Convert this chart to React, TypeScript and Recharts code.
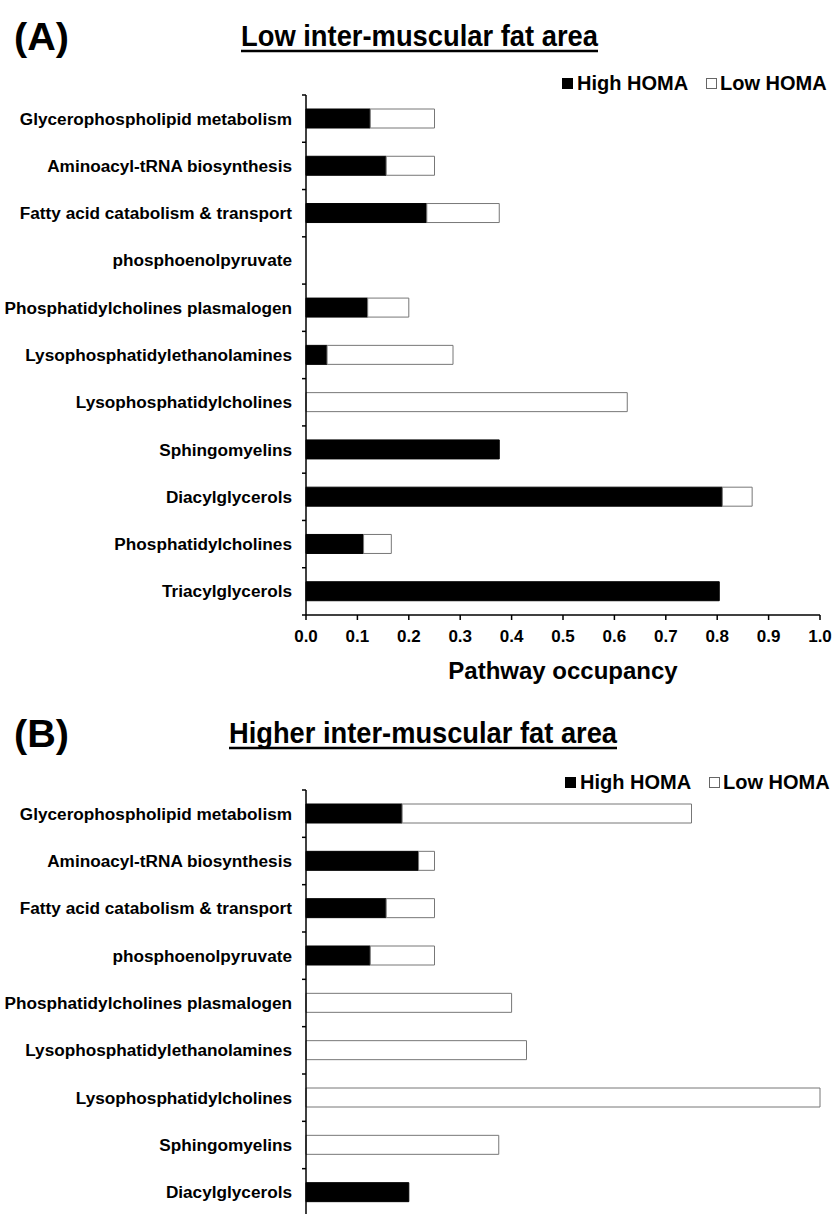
import React from "react";
import { Bar, BarChart, XAxis, YAxis } from "recharts";

const pathways = [
  "Glycerophospholipid metabolism",
  "Aminoacyl-tRNA biosynthesis",
  "Fatty acid catabolism & transport",
  "phosphoenolpyruvate",
  "Phosphatidylcholines plasmalogen",
  "Lysophosphatidylethanolamines",
  "Lysophosphatidylcholines",
  "Sphingomyelins",
  "Diacylglycerols",
  "Phosphatidylcholines ",
  "Triacylglycerols",
];

// panel A: low inter-muscular fat area (stacked: high HOMA + low HOMA)
const lowFatHighHoma = [0.125, 0.156, 0.235, 0, 0.12, 0.041, 0, 0.376, 0.81, 0.112, 0.804];
const lowFatLowHoma = [0.125, 0.094, 0.141, 0, 0.08, 0.245, 0.625, 0, 0.058, 0.054, 0];

// panel B: higher inter-muscular fat area (bottom of the panel is cut off)
const highFatPathways = pathways.slice(0, 9);
const highFatHighHoma = [0.187, 0.219, 0.156, 0.125, 0, 0, 0, 0, 0.2];
const highFatLowHoma = [0.563, 0.031, 0.094, 0.125, 0.4, 0.429, 1.0, 0.375, 0];

const occupancyTicks = [0, 0.1, 0.2, 0.3, 0.4, 0.5, 0.6, 0.7, 0.8, 0.9, 1.0];

const FONT = "'Liberation Sans', Arial, Helvetica, sans-serif";
const AXIS_X = 306;

const dataA = pathways.map((name, i) => ({
  name,
  high: lowFatHighHoma[i],
  low: lowFatLowHoma[i],
}));

const dataB = highFatPathways.map((name, i) => ({
  name,
  high: highFatHighHoma[i],
  low: highFatLowHoma[i],
}));

function CategoryTick(props: any) {
  const { y, payload, index, band, count } = props;
  const top = y - band / 2;
  return (
    <g>
      <text
        x={AXIS_X - 14}
        y={y}
        dy={6}
        textAnchor="end"
        fontFamily={FONT}
        fontWeight="bold"
        fontSize={17.2}
        fill="#000"
      >
        {payload.value}
      </text>
      <line x1={AXIS_X - 4} x2={AXIS_X} y1={top} y2={top} stroke="#000" strokeWidth={1.5} />
      {index === count - 1 && (
        <line
          x1={AXIS_X - 4}
          x2={AXIS_X}
          y1={top + band}
          y2={top + band}
          stroke="#000"
          strokeWidth={1.5}
        />
      )}
    </g>
  );
}

function Legend({ top, left }: { top: number; left: number }) {
  const txt: React.CSSProperties = {
    position: "absolute",
    top: top - 12,
    fontFamily: FONT,
    fontWeight: "bold",
    fontSize: 20,
    lineHeight: "24px",
    color: "#000",
    whiteSpace: "nowrap",
  };
  const sq: React.CSSProperties = {
    position: "absolute",
    top: top - 5,
    width: 11,
    height: 11,
    boxSizing: "border-box",
  };
  return (
    <>
      <div style={{ ...sq, left, background: "#000", border: "1px solid #000" }} />
      <div style={{ ...txt, left: left + 15 }}>High HOMA</div>
      <div style={{ ...sq, left: left + 144, background: "#fff", border: "1px solid #666" }} />
      <div style={{ ...txt, left: left + 158 }}>Low HOMA</div>
    </>
  );
}

function PanelTitle({
  top,
  letter,
  title,
  titleX,
  titleWidth,
}: {
  top: number;
  letter: string;
  title: string;
  titleX: number;
  titleWidth: number;
}) {
  return (
    <svg
      width={838}
      height={70}
      style={{ position: "absolute", top, left: 0 }}
      fontFamily={FONT}
      fontWeight="bold"
    >
      <text x={14} y={50} fontSize={38} textLength={55} lengthAdjust="spacingAndGlyphs" fill="#000">
        {letter}
      </text>
      <text
        x={titleX}
        y={46}
        fontSize={29}
        textLength={titleWidth}
        lengthAdjust="spacingAndGlyphs"
        fill="#000"
      >
        {title}
      </text>
      <line x1={titleX} x2={titleX + titleWidth} y1={51} y2={51} stroke="#000" strokeWidth={2.5} />
    </svg>
  );
}

function PathwayBars({
  data,
  height,
  top,
  bottom,
  showAxis,
}: {
  data: { name: string; high: number; low: number }[];
  height: number;
  top: number;
  bottom: number;
  showAxis: boolean;
}) {
  const axisH = showAxis ? 80 : 0;
  const band = (height - top - bottom - axisH) / data.length;
  return (
    <BarChart
      width={838}
      height={height}
      layout="vertical"
      data={data}
      margin={{ top, right: 18, left: 0, bottom }}
      barSize={19}
    >
      <XAxis
        type="number"
        domain={[0, 1]}
        ticks={occupancyTicks}
        tickFormatter={(v: number) => v.toFixed(1)}
        hide={!showAxis}
        height={axisH}
        tickSize={5}
        tickMargin={10}
        axisLine={{ stroke: "#000", strokeWidth: 1.5 }}
        tickLine={{ stroke: "#000", strokeWidth: 1.5 }}
        tick={{ fontSize: 17, fontWeight: "bold", fill: "#000", fontFamily: FONT }}
        label={{
          value: "Pathway occupancy",
          position: "insideBottom",
          offset: 16,
          fontSize: 24,
          fontWeight: "bold",
          fill: "#000",
          fontFamily: FONT,
        }}
      />
      <YAxis
        type="category"
        dataKey="name"
        width={AXIS_X}
        interval={0}
        axisLine={{ stroke: "#000", strokeWidth: 1.5 }}
        tickLine={false}
        tick={(p: any) => <CategoryTick {...p} band={band} count={data.length} />}
      />
      <Bar dataKey="high" stackId="s" fill="#000" stroke="#000" isAnimationActive={false} />
      <Bar dataKey="low" stackId="s" fill="#fff" stroke="#777" isAnimationActive={false} />
    </BarChart>
  );
}

export default function App() {
  return (
    <div
      style={{
        position: "absolute",
        top: 0,
        left: 0,
        width: 838,
        height: 1214,
        overflow: "hidden",
        background: "#fff",
      }}
    >
      <PanelTitle top={0} letter="(A)" title="Low inter-muscular fat area" titleX={241} titleWidth={357} />
      <Legend top={83} left={562} />
      <div style={{ position: "absolute", top: 0, left: 0 }}>
        <PathwayBars data={dataA} height={700} top={95} bottom={5} showAxis />
      </div>

      <PanelTitle
        top={697}
        letter="(B)"
        title="Higher inter-muscular fat area"
        titleX={229}
        titleWidth={388}
      />
      <Legend top={782} left={565} />
      <div style={{ position: "absolute", top: 700, left: 0 }}>
        <PathwayBars data={dataB} height={540} top={90} bottom={24} showAxis={false} />
      </div>
    </div>
  );
}
